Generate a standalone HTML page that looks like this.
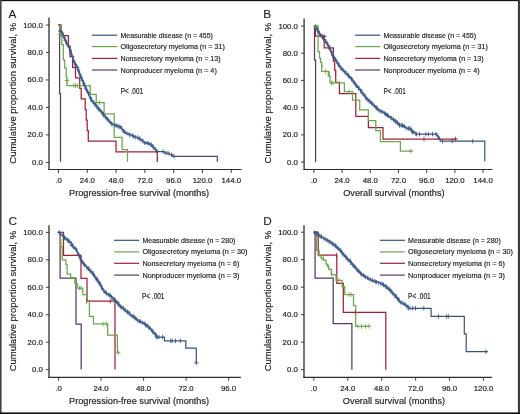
<!DOCTYPE html>
<html><head><meta charset="utf-8"><style>
html,body{margin:0;padding:0;background:#fff;}
svg{display:block;font-family:"Liberation Sans", sans-serif;will-change:transform;}
text{stroke:#1e1e1e;stroke-width:0.18px;}
</style></head><body>
<svg width="520" height="414" viewBox="0 0 520 414">
<rect x="0" y="0" width="520" height="414" fill="#fff"/>
<line x1="49" y1="17.5" x2="49" y2="170.1" stroke="#2e2e2e" stroke-width="1.3"/>
<line x1="48.4" y1="169.5" x2="241.6" y2="169.5" stroke="#2e2e2e" stroke-width="1.2"/>
<line x1="45.8" y1="25" x2="49" y2="25" stroke="#2e2e2e" stroke-width="0.9"/>
<text x="42.8" y="27.5" font-size="7.8" text-anchor="end" fill="#1e1e1e">100.0</text>
<line x1="45.8" y1="52.48" x2="49" y2="52.48" stroke="#2e2e2e" stroke-width="0.9"/>
<text x="42.8" y="54.98" font-size="7.8" text-anchor="end" fill="#1e1e1e">80.0</text>
<line x1="45.8" y1="79.96" x2="49" y2="79.96" stroke="#2e2e2e" stroke-width="0.9"/>
<text x="42.8" y="82.46" font-size="7.8" text-anchor="end" fill="#1e1e1e">60.0</text>
<line x1="45.8" y1="107.44" x2="49" y2="107.44" stroke="#2e2e2e" stroke-width="0.9"/>
<text x="42.8" y="109.94" font-size="7.8" text-anchor="end" fill="#1e1e1e">40.0</text>
<line x1="45.8" y1="134.92" x2="49" y2="134.92" stroke="#2e2e2e" stroke-width="0.9"/>
<text x="42.8" y="137.42" font-size="7.8" text-anchor="end" fill="#1e1e1e">20.0</text>
<line x1="45.8" y1="162.4" x2="49" y2="162.4" stroke="#2e2e2e" stroke-width="0.9"/>
<text x="42.8" y="164.9" font-size="7.8" text-anchor="end" fill="#1e1e1e">0.0</text>
<line x1="58.5" y1="169.5" x2="58.5" y2="172.9" stroke="#2e2e2e" stroke-width="0.9"/>
<text x="58.5" y="182.7" font-size="7.8" text-anchor="middle" fill="#1e1e1e">.0</text>
<line x1="87.3" y1="169.5" x2="87.3" y2="172.9" stroke="#2e2e2e" stroke-width="0.9"/>
<text x="87.3" y="182.7" font-size="7.8" text-anchor="middle" fill="#1e1e1e">24.0</text>
<line x1="116.1" y1="169.5" x2="116.1" y2="172.9" stroke="#2e2e2e" stroke-width="0.9"/>
<text x="116.1" y="182.7" font-size="7.8" text-anchor="middle" fill="#1e1e1e">48.0</text>
<line x1="144.9" y1="169.5" x2="144.9" y2="172.9" stroke="#2e2e2e" stroke-width="0.9"/>
<text x="144.9" y="182.7" font-size="7.8" text-anchor="middle" fill="#1e1e1e">72.0</text>
<line x1="173.7" y1="169.5" x2="173.7" y2="172.9" stroke="#2e2e2e" stroke-width="0.9"/>
<text x="173.7" y="182.7" font-size="7.8" text-anchor="middle" fill="#1e1e1e">96.0</text>
<line x1="202.5" y1="169.5" x2="202.5" y2="172.9" stroke="#2e2e2e" stroke-width="0.9"/>
<text x="202.5" y="182.7" font-size="7.8" text-anchor="middle" fill="#1e1e1e">120.0</text>
<line x1="231.3" y1="169.5" x2="231.3" y2="172.9" stroke="#2e2e2e" stroke-width="0.9"/>
<text x="231.3" y="182.7" font-size="7.8" text-anchor="middle" fill="#1e1e1e">144.0</text>
<text x="69.1" y="195.8" font-size="9.8" text-anchor="start" fill="#1e1e1e" textLength="140" lengthAdjust="spacingAndGlyphs">Progression-free survival (months)</text>
<text transform="translate(16.3,163.7) rotate(-90)" font-size="9.8" fill="#1e1e1e" textLength="141" lengthAdjust="spacingAndGlyphs">Cumulative proportion survival, %</text>
<text x="8.6" y="17.6" font-size="11.8" text-anchor="start" fill="#1e1e1e" style="stroke-width:0.1px">A</text>
<line x1="92.1" y1="35.2" x2="117.3" y2="35.2" stroke="#35527f" stroke-width="1.2"/>
<text x="120.5" y="37.7" font-size="8.0" text-anchor="start" fill="#1e1e1e" textLength="92.4" lengthAdjust="spacingAndGlyphs">Measurable disease (n = 455)</text>
<line x1="92.1" y1="46.6" x2="117.3" y2="46.6" stroke="#68a84a" stroke-width="1.2"/>
<text x="120.5" y="49.1" font-size="8.0" text-anchor="start" fill="#1e1e1e" textLength="104.3" lengthAdjust="spacingAndGlyphs">Oligosecretory myeloma (n = 31)</text>
<line x1="92.1" y1="58.4" x2="117.3" y2="58.4" stroke="#a51f35" stroke-width="1.2"/>
<text x="120.5" y="60.9" font-size="8.0" text-anchor="start" fill="#1e1e1e" textLength="100.1" lengthAdjust="spacingAndGlyphs">Nonsecretory myeloma (n = 13)</text>
<line x1="92.1" y1="70" x2="117.3" y2="70" stroke="#5a3868" stroke-width="1.2"/>
<text x="120.5" y="72.5" font-size="8.0" text-anchor="start" fill="#1e1e1e" textLength="96.3" lengthAdjust="spacingAndGlyphs">Nonproducer myeloma (n = 4)</text>
<text x="120.8" y="94" font-size="8.6" text-anchor="start" fill="#1e1e1e" textLength="22.2" lengthAdjust="spacingAndGlyphs">P&lt; .001</text>
<polyline points="58.5,24.9 59.6,24.9 59.6,31.2 61.3,31.9 63.7,36.5 65.7,41.4 68.6,46.2 70.5,51 72,55.9 73.4,60 75.8,65 78.2,70 80.2,75 82.6,80 84.5,85 86.9,90 88.9,95 91.6,100 95.9,105 99.9,110 103.8,115 108.2,120 112.3,124 115.5,125.6 120.4,127 124.7,132.4 130,134.7 135,136.7 140,139.1 145,142.4 150,144.1 152.5,146.2 155,149.2 157,151.6 164.6,151.6 164.6,153.1 169.2,153.1 169.2,154.6 172.3,154.6 172.3,156.3 217.3,156.3 217.3,161.8" fill="none" stroke="#35527f" stroke-width="1.2" stroke-linejoin="miter" stroke-miterlimit="2"/>
<polyline points="58.3,24.9 59.6,24.9 59.6,93.7 60.5,93.7 60.5,161.8" fill="none" stroke="#5a3868" stroke-width="1.25" stroke-linejoin="miter" stroke-miterlimit="2"/>
<polyline points="58.5,24.9 61,24.9 61,35.5 68.3,35.5 68.3,46.1 70,46.1 70,56.7 72.6,56.7 72.6,67.3 75.5,67.3 75.5,77.9 79.7,77.9 79.7,88.4 81.2,88.4 81.2,98.9 85.2,98.9 85.2,109.5 86.2,109.5 86.2,120.1 87.2,120.1 87.2,130.6 88.3,130.6 88.3,141.2 116,141.2 116,151.8 157.3,151.8 157.3,162" fill="none" stroke="#a51f35" stroke-width="1.25" stroke-linejoin="miter" stroke-miterlimit="2"/>
<polyline points="58.5,24.9 59.6,24.9 59.6,34.4 61.8,34.4 61.8,44.5 63.3,44.5 63.3,59.8 64.7,59.8 64.7,67.8 66.2,67.8 66.2,76.5 66.9,76.5 66.9,85.5 90.2,85.5 90.2,94.4 96.2,94.4 96.2,102.7 104.1,102.7 104.1,113.9 114.2,113.9 114.2,137.4 122.1,137.4 122.1,149.6 127.5,149.6 127.5,161.7" fill="none" stroke="#68a84a" stroke-width="1.25" stroke-linejoin="miter" stroke-miterlimit="2"/>
<polyline points="59.6,31.2 61.3,31.9 63.7,36.5 65.7,41.4 68.6,46.2 70.5,51 72,55.9 73.4,60 75.8,65 78.2,70 80.2,75 82.6,80 84.5,85 86.9,90 88.9,95 91.6,100 95.9,105 99.9,110 103.8,115 108.2,120 112.3,124 115.5,125.6 120.4,127 124.7,132.4 130,134.7 135,136.7 140,139.1 145,142.4 150,144.1 152.5,146.2 155,149.2 157,151.6" fill="none" stroke="#4f6e9c" stroke-width="1.4" stroke-linejoin="miter" stroke-miterlimit="2"/>
<path d="M59.88 28.97v4.4M61.69 29.82v4.4M62.38 31v4.4M63.41 32.95v4.4M64.02 35.26v4.4M64.53 36.45v4.4M65.44 38.25v4.4M65.94 39.35v4.4M66.47 41.45v4.4M68.08 43.23v4.4M69.21 44.58v4.4M69.49 46.8v4.4M69.88 47.68v4.4M70.94 48.95v4.4M71.03 51.05v4.4M71.5 52.53v4.4M72.57 54.6v4.4M73.38 57.38v4.4M73.45 58.83v4.4M74.99 60.5v4.4M75.11 62.18v4.4M75.9 62.94v4.4M77.4 64.91v4.4M77.71 66.58v4.4M78.53 68.47v4.4M78.98 69.06v4.4M79.69 72.23v4.4M80.68 74.28v4.4M80.81 74.88v4.4M81.57 76.07v4.4M82.56 77.95v4.4M83.41 80.79v4.4M84.11 81.99v4.4M84.86 83.42v4.4M85.66 85.47v4.4M86.29 86.86v4.4M86.84 88.52v4.4M87.81 89.5v4.4M88.46 91.07v4.4M89.34 92.98v4.4M90.11 95.27v4.4M91.06 96.72v4.4M91.26 97.99v4.4M93.1 99.73v4.4M93.99 100.61v4.4M94.92 101.88v4.4M95.98 103.3v4.4M96.97 104.31v4.4M97.86 105.84v4.4M98.79 106.66v4.4M99.99 108.15v4.4M101.34 109.24v4.4M102.09 110.78v4.4M103.51 111.99v4.4M103.65 113v4.4M105.27 114.53v4.4M105.94 115.74v4.4M107.77 116.88v4.4M108.14 118.2v4.4M109.67 119.27v4.4M111.21 121.22v4.4M112.05 122.32v4.4M115.13 122.96v4.4M116.77 123.39v4.4M118.13 124.24v4.4M119.11 124.32v4.4M120.2 125.07v4.4M121.91 125.93v4.4M123.29 128.66v4.4M124.52 129.65v4.4M124.91 129.88v4.4M126.91 131.13v4.4M129.02 132.04v4.4M130.14 133v4.4M132.37 133.21v4.4M133.56 134.23v4.4M135.4 135v4.4M137.73 135.19v4.4M139.25 135.95v4.4M140.09 137.11v4.4M142.07 138.56v4.4M142.98 138.73v4.4M144.78 140.72v4.4M147.19 141.06v4.4M148.5 141.29v4.4M150.55 142.17v4.4M151.26 142.69v4.4M153.09 144.38v4.4M153.55 145.45v4.4M155.59 147.32v4.4M156.58 148.71v4.4" stroke="#3a5888" stroke-width="0.8" fill="none"/>
<path d="M58.15 31.16h3.2M60.98 33.08h3.2M62.61 37.4h3.2M63.58 40.51h3.2M65.06 42.97h3.2M67.53 46.66h3.2M68.66 50.58h3.2M69.3 53.89h3.2M71.26 56.42h3.2M71.82 60.43h3.2M73.82 64.64h3.2M76.19 67.58h3.2M77.1 71.04h3.2M78.15 73.8h3.2M79.3 76.28h3.2M80.6 80.59h3.2M82.05 83.54h3.2M83.66 88.28h3.2M84.92 89.95h3.2M87.2 92.66h3.2M88.86 97.75h3.2M90 100.92h3.2M92.47 103.29h3.2M93.92 105.93h3.2M96.28 108.38h3.2M98 110.74h3.2M100.92 112.28h3.2M101.87 115.3h3.2M104.67 117.53h3.2M106.22 120h3.2M109.72 123.83h3.2M113.43 124.94h3.2M116.43 126.2h3.2M118.52 126.61h3.2M121.69 131.61h3.2M123.22 132.47h3.2M127.08 134.54h3.2M131.03 135.69h3.2M133.82 137.18h3.2M137.79 138.79h3.2M140.12 140.11h3.2M143.43 143.58h3.2M146.92 143.4h3.2M149.88 144.39h3.2M151.72 147.16h3.2M155.06 150.61h3.2" stroke="#3a5888" stroke-width="0.8" fill="none"/>
<path d="M163 149.3v4.4M166 150.9v4.4M168 150.9v4.4M171.5 152.4v4.4M174 154.1v4.4" stroke="#35527f" stroke-width="0.85" fill="none"/>
<path d="M60.2 32.1v4.6M66.9 78.2v4.6M73.9 83.2v4.6M75.6 83.2v4.6M77.4 83.2v4.6M99.4 100.4v4.6" stroke="#68a84a" stroke-width="0.85" fill="none"/>
<path d="M58.2 34.4h4.4M64.7 80.5h4.4" stroke="#68a84a" stroke-width="0.9" fill="none"/>
<line x1="304.1" y1="18.4" x2="304.1" y2="170.1" stroke="#2e2e2e" stroke-width="1.3"/>
<line x1="303.5" y1="169.5" x2="492.4" y2="169.5" stroke="#2e2e2e" stroke-width="1.2"/>
<line x1="300.9" y1="26" x2="304.1" y2="26" stroke="#2e2e2e" stroke-width="0.9"/>
<text x="297.9" y="28.5" font-size="7.8" text-anchor="end" fill="#1e1e1e">100.0</text>
<line x1="300.9" y1="53.22" x2="304.1" y2="53.22" stroke="#2e2e2e" stroke-width="0.9"/>
<text x="297.9" y="55.72" font-size="7.8" text-anchor="end" fill="#1e1e1e">80.0</text>
<line x1="300.9" y1="80.44" x2="304.1" y2="80.44" stroke="#2e2e2e" stroke-width="0.9"/>
<text x="297.9" y="82.94" font-size="7.8" text-anchor="end" fill="#1e1e1e">60.0</text>
<line x1="300.9" y1="107.66" x2="304.1" y2="107.66" stroke="#2e2e2e" stroke-width="0.9"/>
<text x="297.9" y="110.16" font-size="7.8" text-anchor="end" fill="#1e1e1e">40.0</text>
<line x1="300.9" y1="134.88" x2="304.1" y2="134.88" stroke="#2e2e2e" stroke-width="0.9"/>
<text x="297.9" y="137.38" font-size="7.8" text-anchor="end" fill="#1e1e1e">20.0</text>
<line x1="300.9" y1="162.1" x2="304.1" y2="162.1" stroke="#2e2e2e" stroke-width="0.9"/>
<text x="297.9" y="164.6" font-size="7.8" text-anchor="end" fill="#1e1e1e">0.0</text>
<line x1="313.9" y1="169.5" x2="313.9" y2="172.9" stroke="#2e2e2e" stroke-width="0.9"/>
<text x="313.9" y="182.7" font-size="7.8" text-anchor="middle" fill="#1e1e1e">.0</text>
<line x1="342.1" y1="169.5" x2="342.1" y2="172.9" stroke="#2e2e2e" stroke-width="0.9"/>
<text x="342.1" y="182.7" font-size="7.8" text-anchor="middle" fill="#1e1e1e">24.0</text>
<line x1="370.3" y1="169.5" x2="370.3" y2="172.9" stroke="#2e2e2e" stroke-width="0.9"/>
<text x="370.3" y="182.7" font-size="7.8" text-anchor="middle" fill="#1e1e1e">48.0</text>
<line x1="398.5" y1="169.5" x2="398.5" y2="172.9" stroke="#2e2e2e" stroke-width="0.9"/>
<text x="398.5" y="182.7" font-size="7.8" text-anchor="middle" fill="#1e1e1e">72.0</text>
<line x1="426.7" y1="169.5" x2="426.7" y2="172.9" stroke="#2e2e2e" stroke-width="0.9"/>
<text x="426.7" y="182.7" font-size="7.8" text-anchor="middle" fill="#1e1e1e">96.0</text>
<line x1="454.9" y1="169.5" x2="454.9" y2="172.9" stroke="#2e2e2e" stroke-width="0.9"/>
<text x="454.9" y="182.7" font-size="7.8" text-anchor="middle" fill="#1e1e1e">120.0</text>
<line x1="483.1" y1="169.5" x2="483.1" y2="172.9" stroke="#2e2e2e" stroke-width="0.9"/>
<text x="483.1" y="182.7" font-size="7.8" text-anchor="middle" fill="#1e1e1e">144.0</text>
<text x="343.2" y="196.2" font-size="9.8" text-anchor="start" fill="#1e1e1e" textLength="101.4" lengthAdjust="spacingAndGlyphs">Overall survival (months)</text>
<text transform="translate(270.8,163.4) rotate(-90)" font-size="9.8" fill="#1e1e1e" textLength="140.6" lengthAdjust="spacingAndGlyphs">Cumulative proportion survival, %</text>
<text x="263.2" y="17.9" font-size="11.8" text-anchor="start" fill="#1e1e1e" style="stroke-width:0.1px">B</text>
<line x1="355.2" y1="35.2" x2="380.2" y2="35.2" stroke="#35527f" stroke-width="1.2"/>
<text x="383.4" y="37.7" font-size="8.0" text-anchor="start" fill="#1e1e1e" textLength="92.6" lengthAdjust="spacingAndGlyphs">Measurable disease (n = 455)</text>
<line x1="355.2" y1="46.6" x2="380.2" y2="46.6" stroke="#68a84a" stroke-width="1.2"/>
<text x="383.4" y="49.1" font-size="8.0" text-anchor="start" fill="#1e1e1e" textLength="104.4" lengthAdjust="spacingAndGlyphs">Oligosecretory myeloma (n = 31)</text>
<line x1="355.2" y1="58.4" x2="380.2" y2="58.4" stroke="#a51f35" stroke-width="1.2"/>
<text x="383.4" y="60.9" font-size="8.0" text-anchor="start" fill="#1e1e1e" textLength="100.2" lengthAdjust="spacingAndGlyphs">Nonsecretory myeloma (n = 13)</text>
<line x1="355.2" y1="70" x2="380.2" y2="70" stroke="#5a3868" stroke-width="1.2"/>
<text x="383.4" y="72.5" font-size="8.0" text-anchor="start" fill="#1e1e1e" textLength="96.4" lengthAdjust="spacingAndGlyphs">Nonproducer myeloma (n = 4)</text>
<text x="383.6" y="94" font-size="8.6" text-anchor="start" fill="#1e1e1e" textLength="22.2" lengthAdjust="spacingAndGlyphs">P&lt; .001</text>
<polyline points="313.9,26 315.5,26 316.2,27.6 319.2,33 323.2,38 327.3,44 330.3,50.3 333.3,56 336.3,61.2 339.4,66 342.5,70 346.7,74 351,78 355,83.9 360,89.7 365,96.4 370,101.7 375,106.6 380,110.9 385,113.4 390,117.2 395.8,121.5 399.7,125.3 404.3,126 406.2,128.2 410.5,128.6 412,132.4 415,132.6 416.6,134.2 436,134.2 438.8,137.5 440.2,139.5 440.2,141.2 484.8,141.2 484.8,161.2" fill="none" stroke="#35527f" stroke-width="1.2" stroke-linejoin="miter" stroke-miterlimit="2"/>
<polyline points="313.9,26 314.5,26 314.5,60 315.6,60 315.6,162.2" fill="none" stroke="#5a3868" stroke-width="1.25" stroke-linejoin="miter" stroke-miterlimit="2"/>
<polyline points="313.9,26 315.4,26 315.4,36 324.2,36 324.2,47.9 333.3,47.9 333.3,61.1 334.7,61.1 334.7,70.2 335.7,70.2 335.7,82.3 339.4,82.3 339.4,93.5 355.8,93.5 355.8,116.4 368.4,116.4 368.4,127.6 383,127.6 383,139 456.2,139" fill="none" stroke="#a51f35" stroke-width="1.25" stroke-linejoin="miter" stroke-miterlimit="2"/>
<polyline points="313.9,26 318.1,26 318.1,51.5 319.5,51.5 319.5,58.1 320.7,58.1 320.7,62.4 321.7,62.4 321.7,71.4 328.3,71.4 328.3,76.3 330.1,76.3 330.1,82.9 344.4,82.9 344.4,91.7 352.5,91.7 352.5,100 359.7,100 359.7,109.9 368.4,109.9 368.4,120.6 375.8,120.6 375.8,130.7 380.4,130.7 380.4,141.6 400.4,141.6 400.4,151.2 412,151.2" fill="none" stroke="#68a84a" stroke-width="1.25" stroke-linejoin="miter" stroke-miterlimit="2"/>
<polyline points="315.5,26 316.2,27.6 319.2,33 323.2,38 327.3,44 330.3,50.3 333.3,56 336.3,61.2 339.4,66 342.5,70 346.7,74 351,78 355,83.9 360,89.7 365,96.4 370,101.7 375,106.6 380,110.9 385,113.4 390,117.2 395.8,121.5 399.7,125.3 404.3,126 406.2,128.2 410.5,128.6 412,132.4 415,132.6 416.6,134.2" fill="none" stroke="#4f6e9c" stroke-width="1.4" stroke-linejoin="miter" stroke-miterlimit="2"/>
<polyline points="436,134.2 438.8,137.5 440.2,139.5" fill="none" stroke="#4f6e9c" stroke-width="1.4" stroke-linejoin="miter" stroke-miterlimit="2"/>
<path d="M315.75 24.48v4.4M316.5 25.55v4.4M317.4 27.21v4.4M317.42 28.26v4.4M318.36 29.62v4.4M319.61 30.69v4.4M320.78 32.89v4.4M321.75 33.97v4.4M322.52 35.19v4.4M323.65 36.8v4.4M324.79 37.89v4.4M325.57 39.19v4.4M327.15 40.9v4.4M327.19 41.67v4.4M328.65 44.44v4.4M329.21 45v4.4M329.92 46.51v4.4M330.61 47.97v4.4M331.27 50.01v4.4M331.67 50.89v4.4M332.54 52.88v4.4M333.64 54.59v4.4M333.92 55.36v4.4M335.16 56.9v4.4M335.95 57.65v4.4M336.98 59.54v4.4M337.88 61.55v4.4M338.73 62.92v4.4M339.85 63.95v4.4M340.62 65.75v4.4M341.94 66.69v4.4M343.15 68v4.4M344.77 69.47v4.4M345.8 71.04v4.4M347.4 72.43v4.4M348.66 73.46v4.4M349.37 74.82v4.4M351.49 76.71v4.4M352.03 77.48v4.4M353.16 79.53v4.4M354.36 80.3v4.4M355.12 81.97v4.4M356.35 83.74v4.4M356.88 83.7v4.4M358.29 85.49v4.4M358.86 86.39v4.4M360.7 88.35v4.4M361.07 89.21v4.4M362.14 90.4v4.4M362.92 91.96v4.4M364.26 93.28v4.4M365.62 95.01v4.4M366.79 96.47v4.4M367.85 97.76v4.4M369.19 98.79v4.4M370.22 99.66v4.4M371.64 101.05v4.4M372.67 101.63v4.4M374.24 103.49v4.4M375.79 105.16v4.4M376.59 105.69v4.4M377.43 106.32v4.4M378.84 108.11v4.4M380.62 109.06v4.4M382.09 109.7v4.4M384.43 111.07v4.4M385.5 111.83v4.4M386.85 112.9v4.4M387.55 112.92v4.4M388.57 113.76v4.4M390.59 115.36v4.4M391.94 116.15v4.4M393.51 117.35v4.4M394.83 118.56v4.4M395.98 119.61v4.4M397.34 120.52v4.4M398.79 121.64v4.4M399.88 122.87v4.4M401.31 123.03v4.4M402.48 123.24v4.4M404.51 123.97v4.4M406.7 126.26v4.4M408.34 126.1v4.4M410.88 126.15v4.4M411.27 128.07v4.4M412.44 129.86v4.4M413.73 130.08v4.4M415.73 131.59v4.4M436.05 132.06v4.4M438.19 134.3v4.4M439.02 135.88v4.4" stroke="#3a5888" stroke-width="0.8" fill="none"/>
<path d="M314.24 25.88h3.2M315.33 28.75h3.2M316.43 31.08h3.2M318.73 35.34h3.2M321.32 36.91h3.2M323.66 40.06h3.2M325.85 43.77h3.2M327.49 45.9h3.2M328.13 48.88h3.2M330.12 51.55h3.2M330.73 55.64h3.2M331.94 57.38h3.2M334.18 60.14h3.2M336.7 63.23h3.2M338.49 66.53h3.2M340.68 68.98h3.2M343.6 71.45h3.2M345.71 74.2h3.2M348.05 76.99h3.2M350.2 79.15h3.2M352.98 82.67h3.2M354.96 85.76h3.2M356.68 87.13h3.2M359.31 89.78h3.2M360.51 93.02h3.2M362.84 94.83h3.2M364.93 99.22h3.2M367.74 101.59h3.2M370.41 103.17h3.2M373.04 106.06h3.2M374.82 107.68h3.2M376.81 110.14h3.2M380.94 111.27h3.2M383.97 113.4h3.2M385.53 115.36h3.2M388.73 116.84h3.2M391.56 119.78h3.2M394.47 121.03h3.2M396.92 124.58h3.2M399.43 125.33h3.2M402.83 126.62h3.2M406.84 128.76h3.2M409.71 129.77h3.2M411.81 131.6h3.2M434.78 133.64h3.2M436.95 138.83h3.2" stroke="#3a5888" stroke-width="0.8" fill="none"/>
<path d="M395.5 119.1v4.4M399.5 123.1v4.4M403 123.8v4.4M409 126.4v4.4M416.6 132v4.4M419.6 132v4.4M425.9 132v4.4M428.5 132v4.4M432.5 132v4.4M442.5 139v4.4M452.2 139v4.4M472.7 139v4.4" stroke="#35527f" stroke-width="0.85" fill="none"/>
<path d="M324 34v4.6M424 136.7v4.6M455.6 136.7v4.6" stroke="#a51f35" stroke-width="0.85" fill="none"/>
<path d="M453.4 139h4.4M322.4 36.2h4.4" stroke="#a51f35" stroke-width="0.9" fill="none"/>
<path d="M315.7 23.9v4.6M322 63.7v4.6M325.5 69.1v4.6M329.5 71.2v4.6M331.5 80.6v4.6M333 80.6v4.6M349 89.4v4.6M352.5 95.7v4.6M411 148.9v4.6" stroke="#68a84a" stroke-width="0.85" fill="none"/>
<path d="M408.8 151.2h4.4M313.5 26.2h4.4" stroke="#68a84a" stroke-width="0.9" fill="none"/>
<line x1="49" y1="225.3" x2="49" y2="377.95" stroke="#2e2e2e" stroke-width="1.3"/>
<line x1="48.4" y1="377.35" x2="240.9" y2="377.35" stroke="#2e2e2e" stroke-width="1.2"/>
<line x1="45.8" y1="232.4" x2="49" y2="232.4" stroke="#2e2e2e" stroke-width="0.9"/>
<text x="42.8" y="234.9" font-size="7.8" text-anchor="end" fill="#1e1e1e">100.0</text>
<line x1="45.8" y1="259.85" x2="49" y2="259.85" stroke="#2e2e2e" stroke-width="0.9"/>
<text x="42.8" y="262.35" font-size="7.8" text-anchor="end" fill="#1e1e1e">80.0</text>
<line x1="45.8" y1="287.3" x2="49" y2="287.3" stroke="#2e2e2e" stroke-width="0.9"/>
<text x="42.8" y="289.8" font-size="7.8" text-anchor="end" fill="#1e1e1e">60.0</text>
<line x1="45.8" y1="314.75" x2="49" y2="314.75" stroke="#2e2e2e" stroke-width="0.9"/>
<text x="42.8" y="317.25" font-size="7.8" text-anchor="end" fill="#1e1e1e">40.0</text>
<line x1="45.8" y1="342.2" x2="49" y2="342.2" stroke="#2e2e2e" stroke-width="0.9"/>
<text x="42.8" y="344.7" font-size="7.8" text-anchor="end" fill="#1e1e1e">20.0</text>
<line x1="45.8" y1="369.65" x2="49" y2="369.65" stroke="#2e2e2e" stroke-width="0.9"/>
<text x="42.8" y="372.15" font-size="7.8" text-anchor="end" fill="#1e1e1e">0.0</text>
<line x1="58.6" y1="377.35" x2="58.6" y2="380.75" stroke="#2e2e2e" stroke-width="0.9"/>
<text x="58.6" y="390.55" font-size="7.8" text-anchor="middle" fill="#1e1e1e">.0</text>
<line x1="101.1" y1="377.35" x2="101.1" y2="380.75" stroke="#2e2e2e" stroke-width="0.9"/>
<text x="101.1" y="390.55" font-size="7.8" text-anchor="middle" fill="#1e1e1e">24.0</text>
<line x1="143.6" y1="377.35" x2="143.6" y2="380.75" stroke="#2e2e2e" stroke-width="0.9"/>
<text x="143.6" y="390.55" font-size="7.8" text-anchor="middle" fill="#1e1e1e">48.0</text>
<line x1="186.1" y1="377.35" x2="186.1" y2="380.75" stroke="#2e2e2e" stroke-width="0.9"/>
<text x="186.1" y="390.55" font-size="7.8" text-anchor="middle" fill="#1e1e1e">72.0</text>
<line x1="228.6" y1="377.35" x2="228.6" y2="380.75" stroke="#2e2e2e" stroke-width="0.9"/>
<text x="228.6" y="390.55" font-size="7.8" text-anchor="middle" fill="#1e1e1e">96.0</text>
<text x="69.1" y="403.6" font-size="9.8" text-anchor="start" fill="#1e1e1e" textLength="140" lengthAdjust="spacingAndGlyphs">Progression-free survival (months)</text>
<text transform="translate(16.3,371.2) rotate(-90)" font-size="9.8" fill="#1e1e1e" textLength="140.4" lengthAdjust="spacingAndGlyphs">Cumulative proportion survival, %</text>
<text x="8.6" y="224.8" font-size="11.8" text-anchor="start" fill="#1e1e1e" style="stroke-width:0.1px">C</text>
<line x1="114.1" y1="240.3" x2="139.2" y2="240.3" stroke="#35527f" stroke-width="1.2"/>
<text x="142.4" y="242.8" font-size="8.0" text-anchor="start" fill="#1e1e1e" textLength="93" lengthAdjust="spacingAndGlyphs">Measurable disease (n = 280)</text>
<line x1="114.1" y1="251.9" x2="139.2" y2="251.9" stroke="#68a84a" stroke-width="1.2"/>
<text x="142.4" y="254.4" font-size="8.0" text-anchor="start" fill="#1e1e1e" textLength="105" lengthAdjust="spacingAndGlyphs">Oligosecretory myeloma (n = 30)</text>
<line x1="114.1" y1="263.3" x2="139.2" y2="263.3" stroke="#a51f35" stroke-width="1.2"/>
<text x="142.4" y="265.8" font-size="8.0" text-anchor="start" fill="#1e1e1e" textLength="96.9" lengthAdjust="spacingAndGlyphs">Nonsecretory myeloma (n = 6)</text>
<line x1="114.1" y1="275.1" x2="139.2" y2="275.1" stroke="#5a3868" stroke-width="1.2"/>
<text x="142.4" y="277.6" font-size="8.0" text-anchor="start" fill="#1e1e1e" textLength="97.1" lengthAdjust="spacingAndGlyphs">Nonproducer myeloma (n = 3)</text>
<text x="141.9" y="298.9" font-size="8.6" text-anchor="start" fill="#1e1e1e" textLength="22.6" lengthAdjust="spacingAndGlyphs">P&lt; .001</text>
<polyline points="58.6,232.4 60,233.6 62.5,235.2 66.1,238.9 69.8,241.8 72.7,245.4 75.6,249 77.7,252.6 79.2,256.3 80.8,260 84.7,265 89.5,270 93.9,275 97.3,280 100.7,285 103.1,290 105,292.2 110,295.6 115,300 120,305.8 125,310.1 130,314.5 135,318.3 140,321.7 142,322.4 146,325.1 150,327.7 152,331.3 155,333.8 156.5,336.4 157.5,337.1 164.5,337.1 164.5,340.8 185.8,340.8 185.8,348.2 196.3,348.2 196.3,362.9" fill="none" stroke="#35527f" stroke-width="1.2" stroke-linejoin="miter" stroke-miterlimit="2"/>
<polyline points="58.6,232.3 60.1,232.3 60.1,278.2 76,278.2 76,324 81.2,324 81.2,369.4" fill="none" stroke="#5a3868" stroke-width="1.25" stroke-linejoin="miter" stroke-miterlimit="2"/>
<polyline points="58.6,232.3 63.5,232.3 63.5,255.3 81,255.3 81,278.3 87,278.3 87,301.2 115,301.2 115,369.5" fill="none" stroke="#a51f35" stroke-width="1.25" stroke-linejoin="miter" stroke-miterlimit="2"/>
<polyline points="58.6,232.3 60.4,232.3 60.4,239.6 60.9,239.6 60.9,246.7 62.2,246.7 62.2,259.8 65.9,259.8 65.9,264.3 67.1,264.3 67.1,274 70.7,274 70.7,277.7 74.9,277.7 74.9,283.7 77.3,283.7 77.3,288 82.8,288 82.8,294.6 87,294.6 87,300.6 89.4,300.6 89.4,316.3 93.4,316.3 93.4,323.9 107.7,323.9 107.7,335.2 117.4,335.2 117.4,352.7" fill="none" stroke="#68a84a" stroke-width="1.25" stroke-linejoin="miter" stroke-miterlimit="2"/>
<polyline points="58.6,232.4 60,233.6 62.5,235.2 66.1,238.9 69.8,241.8 72.7,245.4 75.6,249 77.7,252.6 79.2,256.3 80.8,260 84.7,265 89.5,270 93.9,275 97.3,280 100.7,285 103.1,290 105,292.2 110,295.6 115,300 120,305.8 125,310.1 130,314.5 135,318.3 140,321.7 142,322.4 146,325.1 150,327.7 152,331.3 155,333.8 156.5,336.4 157.5,337.1" fill="none" stroke="#4f6e9c" stroke-width="1.4" stroke-linejoin="miter" stroke-miterlimit="2"/>
<path d="M59.08 229.93v4.4M60.48 232.18v4.4M63.06 233.72v4.4M64.2 234.98v4.4M64.91 236.13v4.4M66.79 236.75v4.4M67.7 238.21v4.4M68.5 238.66v4.4M69.88 239.89v4.4M71.13 241.21v4.4M71.74 242.65v4.4M72.84 243.03v4.4M73.53 244.99v4.4M75.35 246.61v4.4M76.33 247.5v4.4M77.27 249.46v4.4M78.11 251.73v4.4M79.03 253.12v4.4M79.69 254.11v4.4M80.22 255.85v4.4M81.22 257.73v4.4M82.03 259.54v4.4M83.15 260.81v4.4M83.58 261.56v4.4M84.66 262.76v4.4M86.61 265.1v4.4M88.11 265.91v4.4M88.27 266.63v4.4M89.88 268.05v4.4M90.99 269.65v4.4M92.53 270.76v4.4M93.21 271.24v4.4M93.99 272.93v4.4M94.47 273.88v4.4M95.97 276.36v4.4M97.23 276.67v4.4M97 277.87v4.4M97.96 279.35v4.4M98.9 280.12v4.4M100.19 281.91v4.4M100.66 282.97v4.4M102.15 285.45v4.4M102.13 286.64v4.4M104.01 289.17v4.4M105.24 289.95v4.4M106.38 291.26v4.4M108.15 292.33v4.4M109.7 293.13v4.4M110.33 293.34v4.4M111.53 295.11v4.4M112.84 295.81v4.4M114.33 296.95v4.4M115.3 298.28v4.4M116.24 299.67v4.4M117.84 300.81v4.4M118.08 301.35v4.4M119.12 302.99v4.4M120.37 304.36v4.4M121.54 305.31v4.4M123.34 306.06v4.4M124.19 307.3v4.4M125.47 308.22v4.4M127.32 309.44v4.4M127.62 309.99v4.4M129.32 310.94v4.4M129.93 312.01v4.4M131.84 313.89v4.4M133.23 314.07v4.4M134.33 314.88v4.4M135.19 316v4.4M136.3 316.96v4.4M137.93 318.69v4.4M139.28 318.92v4.4M140.49 319.33v4.4M142.35 320.3v4.4M144.29 321.09v4.4M145.46 322.4v4.4M146 323.44v4.4M147.26 323.56v4.4M148.65 325.11v4.4M149.8 326.02v4.4M151.98 328.12v4.4M152.68 329.35v4.4M153.98 330.4v4.4M155.35 332.15v4.4M155.98 333.38v4.4M156.79 334.72v4.4" stroke="#3a5888" stroke-width="0.8" fill="none"/>
<path d="M57.18 232.28h3.2M61.89 236.47h3.2M62.99 239.07h3.2M66.44 239.88h3.2M68.05 241.61h3.2M69.69 245.62h3.2M71.83 247.78h3.2M74.35 248.92h3.2M76.88 254.4h3.2M78.58 256.61h3.2M79.64 260.36h3.2M81.14 263.07h3.2M83 264.4h3.2M86.61 267.82h3.2M88.29 270.05h3.2M90.75 272.74h3.2M92.49 275.9h3.2M94.8 279.14h3.2M95.74 279.73h3.2M97.77 281.95h3.2M98.69 285.17h3.2M100.76 288.58h3.2M103.78 291.8h3.2M107.02 294.45h3.2M108.7 295.59h3.2M111.61 298.79h3.2M113.73 300.39h3.2M116.36 302.32h3.2M117.44 305.74h3.2M120.22 306.81h3.2M122.94 309.32h3.2M126.2 311.43h3.2M127.44 313.22h3.2M130.62 315.98h3.2M133.1 317.42h3.2M134.56 318.85h3.2M137.68 320.95h3.2M140.62 322.74h3.2M144.24 324.74h3.2M145.31 325.31h3.2M148.07 328.41h3.2M150.72 330.88h3.2M153.57 334h3.2M154.72 336.98h3.2" stroke="#3a5888" stroke-width="0.8" fill="none"/>
<path d="M157.2 334.9v4.4M159 334.9v4.4M162.5 334.9v4.4M170.6 338.6v4.4M172.3 338.6v4.4M175.5 338.6v4.4M180.4 338.6v4.4M196.3 360.7v4.4" stroke="#35527f" stroke-width="0.85" fill="none"/>
<path d="M86.6 298.9v4.6M110.3 298.9v4.6" stroke="#a51f35" stroke-width="0.85" fill="none"/>
<path d="M60.6 240.7v4.6M70.5 274.2v4.6M75.5 278.2v4.6M79.5 285.7v4.6M81 285.7v4.6M103 321.6v4.6M106.3 321.6v4.6M118.4 350.4v4.6" stroke="#68a84a" stroke-width="0.85" fill="none"/>
<path d="M116 352.7h4.4" stroke="#68a84a" stroke-width="0.9" fill="none"/>
<path d="M194.1 362.9h4.4" stroke="#35527f" stroke-width="0.9" fill="none"/>
<line x1="304" y1="225.2" x2="304" y2="377.95" stroke="#2e2e2e" stroke-width="1.3"/>
<line x1="303.4" y1="377.35" x2="492" y2="377.35" stroke="#2e2e2e" stroke-width="1.2"/>
<line x1="300.8" y1="232.2" x2="304" y2="232.2" stroke="#2e2e2e" stroke-width="0.9"/>
<text x="297.8" y="234.7" font-size="7.8" text-anchor="end" fill="#1e1e1e">100.0</text>
<line x1="300.8" y1="259.7" x2="304" y2="259.7" stroke="#2e2e2e" stroke-width="0.9"/>
<text x="297.8" y="262.2" font-size="7.8" text-anchor="end" fill="#1e1e1e">80.0</text>
<line x1="300.8" y1="287.2" x2="304" y2="287.2" stroke="#2e2e2e" stroke-width="0.9"/>
<text x="297.8" y="289.7" font-size="7.8" text-anchor="end" fill="#1e1e1e">60.0</text>
<line x1="300.8" y1="314.7" x2="304" y2="314.7" stroke="#2e2e2e" stroke-width="0.9"/>
<text x="297.8" y="317.2" font-size="7.8" text-anchor="end" fill="#1e1e1e">40.0</text>
<line x1="300.8" y1="342.2" x2="304" y2="342.2" stroke="#2e2e2e" stroke-width="0.9"/>
<text x="297.8" y="344.7" font-size="7.8" text-anchor="end" fill="#1e1e1e">20.0</text>
<line x1="300.8" y1="369.7" x2="304" y2="369.7" stroke="#2e2e2e" stroke-width="0.9"/>
<text x="297.8" y="372.2" font-size="7.8" text-anchor="end" fill="#1e1e1e">0.0</text>
<line x1="313.8" y1="377.35" x2="313.8" y2="380.75" stroke="#2e2e2e" stroke-width="0.9"/>
<text x="313.8" y="390.55" font-size="7.8" text-anchor="middle" fill="#1e1e1e">.0</text>
<line x1="347.75" y1="377.35" x2="347.75" y2="380.75" stroke="#2e2e2e" stroke-width="0.9"/>
<text x="347.75" y="390.55" font-size="7.8" text-anchor="middle" fill="#1e1e1e">24.0</text>
<line x1="381.7" y1="377.35" x2="381.7" y2="380.75" stroke="#2e2e2e" stroke-width="0.9"/>
<text x="381.7" y="390.55" font-size="7.8" text-anchor="middle" fill="#1e1e1e">48.0</text>
<line x1="415.65" y1="377.35" x2="415.65" y2="380.75" stroke="#2e2e2e" stroke-width="0.9"/>
<text x="415.65" y="390.55" font-size="7.8" text-anchor="middle" fill="#1e1e1e">72.0</text>
<line x1="449.6" y1="377.35" x2="449.6" y2="380.75" stroke="#2e2e2e" stroke-width="0.9"/>
<text x="449.6" y="390.55" font-size="7.8" text-anchor="middle" fill="#1e1e1e">96.0</text>
<line x1="483.55" y1="377.35" x2="483.55" y2="380.75" stroke="#2e2e2e" stroke-width="0.9"/>
<text x="483.55" y="390.55" font-size="7.8" text-anchor="middle" fill="#1e1e1e">120.0</text>
<text x="342.8" y="403.6" font-size="9.8" text-anchor="start" fill="#1e1e1e" textLength="102.4" lengthAdjust="spacingAndGlyphs">Overall survival (months)</text>
<text transform="translate(270.8,371.2) rotate(-90)" font-size="9.8" fill="#1e1e1e" textLength="140.4" lengthAdjust="spacingAndGlyphs">Cumulative proportion survival, %</text>
<text x="263.2" y="224.8" font-size="11.8" text-anchor="start" fill="#1e1e1e" style="stroke-width:0.1px">D</text>
<line x1="379.9" y1="240.3" x2="404.9" y2="240.3" stroke="#35527f" stroke-width="1.2"/>
<text x="408.1" y="242.8" font-size="8.0" text-anchor="start" fill="#1e1e1e" textLength="92.7" lengthAdjust="spacingAndGlyphs">Measurable disease (n = 280)</text>
<line x1="379.9" y1="251.9" x2="404.9" y2="251.9" stroke="#68a84a" stroke-width="1.2"/>
<text x="408.1" y="254.4" font-size="8.0" text-anchor="start" fill="#1e1e1e" textLength="104.9" lengthAdjust="spacingAndGlyphs">Oligosecretory myeloma (n = 30)</text>
<line x1="379.9" y1="263.3" x2="404.9" y2="263.3" stroke="#a51f35" stroke-width="1.2"/>
<text x="408.1" y="265.8" font-size="8.0" text-anchor="start" fill="#1e1e1e" textLength="96.8" lengthAdjust="spacingAndGlyphs">Nonsecretory myeloma (n = 6)</text>
<line x1="379.9" y1="275.1" x2="404.9" y2="275.1" stroke="#5a3868" stroke-width="1.2"/>
<text x="408.1" y="277.6" font-size="8.0" text-anchor="start" fill="#1e1e1e" textLength="96.8" lengthAdjust="spacingAndGlyphs">Nonproducer myeloma (n = 3)</text>
<text x="408.1" y="298.9" font-size="8.6" text-anchor="start" fill="#1e1e1e" textLength="22.6" lengthAdjust="spacingAndGlyphs">P&lt; .001</text>
<polyline points="313.8,232.2 315,232.4 320,236.2 325,239.1 330,242 335,245.4 340,250.2 345,256 350,261.3 355,267.1 360,272.8 365,276.5 370,279.7 375,281.3 380,282.9 385,285.6 390,289.8 395,295.7 400,302 405,304.7 408,306.8 409,308.3 431.1,308.3 431.1,316.4 464.3,316.4 464.3,333.8 466.2,333.8 466.2,351.6 487.4,351.6" fill="none" stroke="#35527f" stroke-width="1.2" stroke-linejoin="miter" stroke-miterlimit="2"/>
<polyline points="313.8,232.1 315.1,232.1 315.1,278 333.2,278 333.2,323.5 351.9,323.5 351.9,369.7" fill="none" stroke="#5a3868" stroke-width="1.25" stroke-linejoin="miter" stroke-miterlimit="2"/>
<polyline points="313.8,232.1 318.2,232.1 318.2,255.2 336.8,255.2 336.8,283.4 343.3,283.4 343.3,312.4 385.8,312.4 385.8,369.7" fill="none" stroke="#a51f35" stroke-width="1.25" stroke-linejoin="miter" stroke-miterlimit="2"/>
<polyline points="313.8,232.2 316.5,232.2 316.5,250.4 319.1,250.4 319.1,255.9 321.2,255.9 321.2,258.4 323.1,258.4 323.1,260.2 326,260.2 326,264.2 327.4,264.2 327.4,266.7 328.9,266.7 328.9,269.4 331.3,269.4 331.3,274.5 336,274.5 336,280.3 342.1,280.3 342.1,286.5 344.7,286.5 344.7,294.5 353.5,294.5 353.5,305.6 355.7,305.6 355.7,326.3 369.2,326.3" fill="none" stroke="#68a84a" stroke-width="1.25" stroke-linejoin="miter" stroke-miterlimit="2"/>
<polyline points="313.8,232.2 315,232.4 320,236.2 325,239.1 330,242 335,245.4 340,250.2 345,256 350,261.3 355,267.1 360,272.8 365,276.5 370,279.7 375,281.3 380,282.9 385,285.6 390,289.8 395,295.7 400,302 405,304.7 408,306.8 409,308.3" fill="none" stroke="#4f6e9c" stroke-width="1.4" stroke-linejoin="miter" stroke-miterlimit="2"/>
<path d="M314.49 230.35v4.4M315.89 231.09v4.4M316.73 231.02v4.4M318.06 232.58v4.4M319.25 233.25v4.4M320.9 234.06v4.4M321.58 234.49v4.4M323.91 236.19v4.4M325.4 237.06v4.4M327.42 238.17v4.4M328.81 239.08v4.4M330.02 240.1v4.4M331.65 240.67v4.4M332.8 242.14v4.4M334.24 242.69v4.4M335.74 243.32v4.4M336.21 244.82v4.4M337.87 245.64v4.4M338.85 246.95v4.4M340.57 248.37v4.4M341.56 249.52v4.4M342.08 250.49v4.4M343.25 252.14v4.4M344.26 253.34v4.4M345.97 254.76v4.4M346.05 255.22v4.4M347.49 257.07v4.4M349.17 258.38v4.4M350.4 259.08v4.4M350.88 259.95v4.4M352.21 262.12v4.4M353.15 263.06v4.4M353.98 263.76v4.4M355.31 264.92v4.4M355.84 266.06v4.4M357.14 267.77v4.4M358.27 268.58v4.4M359.31 269.47v4.4M360.48 271.03v4.4M361.23 272.06v4.4M363.14 273.01v4.4M364.27 273.71v4.4M365.48 274.93v4.4M367.41 275.57v4.4M368.69 276.39v4.4M370.8 277.34v4.4M372.48 278.18v4.4M374.16 278.69v4.4M375.56 279.58v4.4M376.54 279.96v4.4M378.73 280.74v4.4M380.92 281.67v4.4M382.7 281.84v4.4M383.49 282.74v4.4M385.25 283.69v4.4M386.6 284.67v4.4M387.48 285.8v4.4M389.17 286.42v4.4M389.99 287.79v4.4M391.03 288.74v4.4M392.05 290.31v4.4M392.78 291.3v4.4M394.85 292.99v4.4M394.89 293.58v4.4M396.54 294.61v4.4M397.55 296.67v4.4M398.53 297.16v4.4M399.35 298.67v4.4M400.61 300.21v4.4M402.72 300.69v4.4M404.24 301.71v4.4M405.79 302.61v4.4M406.92 304.2v4.4M408.17 304.71v4.4" stroke="#3a5888" stroke-width="0.8" fill="none"/>
<path d="M313.26 232.94h3.2M315.13 233.52h3.2M317.57 235.93h3.2M319.73 236.76h3.2M323.88 239.08h3.2M326.76 240.75h3.2M330.19 242.4h3.2M332.89 244.9h3.2M335.07 247.58h3.2M337.48 248.94h3.2M339.5 251.81h3.2M341.89 255.01h3.2M344.07 256.41h3.2M346.37 259.65h3.2M348.79 261.66h3.2M350.26 264.39h3.2M352.54 266.13h3.2M353.9 267.68h3.2M356.79 271.39h3.2M358.52 272.44h3.2M361.12 275.66h3.2M363.77 277.06h3.2M367.58 278.76h3.2M370.64 280.7h3.2M373.46 281.43h3.2M377.33 282.41h3.2M380.63 284.07h3.2M383.47 286.64h3.2M385.48 288.48h3.2M388.28 290.48h3.2M390.4 292.77h3.2M393.08 294.75h3.2M394.89 297.3h3.2M396.77 298.93h3.2M398.93 301.76h3.2M402.45 304.02h3.2M405.36 306.55h3.2" stroke="#3a5888" stroke-width="0.8" fill="none"/>
<path d="M408.2 306.1v4.4M410 306.1v4.4M412.8 306.1v4.4M415.5 306.1v4.4M423.8 306.1v4.4M438.4 314.2v4.4M446.6 314.2v4.4M448.4 314.2v4.4M486 349.4v4.4" stroke="#35527f" stroke-width="0.85" fill="none"/>
<path d="M336.6 252.9v4.6M355.4 310.1v4.6" stroke="#a51f35" stroke-width="0.85" fill="none"/>
<path d="M323.5 256.1v4.6M328.5 264.4v4.6M331.8 272.2v4.6M338.9 278v4.6M349 292.2v4.6M351.2 292.2v4.6M357.9 324v4.6M361.6 324v4.6M365.4 324v4.6M369 324v4.6" stroke="#68a84a" stroke-width="0.85" fill="none"/>
<path d="M366.8 326.3h4.4" stroke="#68a84a" stroke-width="0.9" fill="none"/>
<path d="M483.8 351.6h4.4" stroke="#35527f" stroke-width="0.9" fill="none"/>
<rect x="0" y="0" width="520" height="1.15" fill="#111"/>
<rect x="0" y="0" width="1.6" height="414" fill="#444"/>
<rect x="517.9" y="0" width="2.1" height="414" fill="#3a3a3a"/>
<rect x="0" y="412.4" width="520" height="1.6" fill="#111"/>
</svg>
</body></html>
